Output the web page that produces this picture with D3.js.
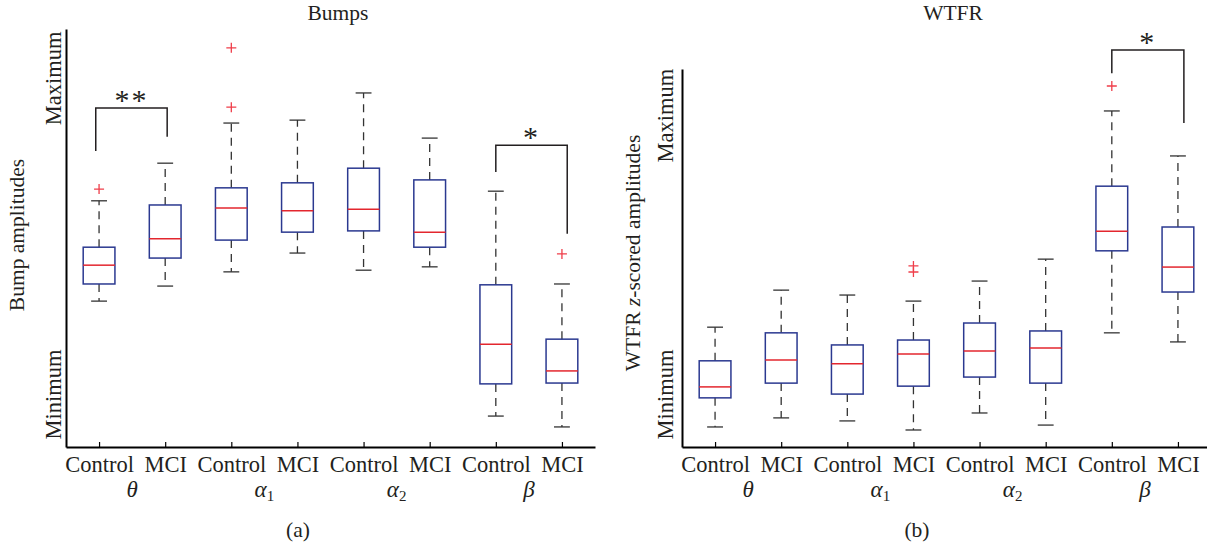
<!DOCTYPE html>
<html>
<head>
<meta charset="utf-8">
<script src="https://cdn.jsdelivr.net/npm/d3@7"></script>
<style>
  body { margin: 0; background: #fff; }
  text { font-family: "Liberation Serif", "DejaVu Serif", serif; fill: #231f20; }
</style>
</head>
<body>
<svg id="chart" width="1207" height="545"></svg>
<script>
// categories
const groups = ["Control", "MCI", "Control", "MCI", "Control", "MCI", "Control", "MCI"];
const bandSymbols = ["θ", "α", "α", "β"];
const bandSubs = ["", "1", "2", ""];

// box stats per group: [lower whisker, q1, median, q3, upper whisker] (0 = axis bottom)
const bumpsStats = [
    [34.9, 39.0, 43.5, 47.8, 58.9],
    [38.5, 45.2, 49.8, 57.9, 67.9],
    [41.9, 49.5, 57.2, 62.0, 77.5],
    [46.4, 51.4, 56.5, 63.2, 78.2],
    [42.3, 51.7, 56.9, 66.7, 84.7],
    [43.1, 47.8, 51.4, 63.9, 73.9],
    [7.4, 15.1, 24.6, 38.8, 61.2],
    [4.8, 15.3, 18.2, 25.8, 39.0]
];
const bumpsOutliers = [[61.7], [], [81.3, 95.5], [], [], [], [], [46.2]];
const bumpsBrackets = [
    {x1: 0.95, x2: 2.03, top: 81.1, left: 70.8, right: 74.2, label: "**"},
    {x1: 7.0, x2: 8.08, top: 72.2, left: 65.8, right: 51.0, label: "*"}
];

const wtfrStats = [
    [5.3, 13.0, 15.9, 22.8, 31.7],
    [7.7, 16.9, 23.0, 30.2, 41.5],
    [6.9, 14.0, 22.0, 27.0, 40.2],
    [4.5, 16.1, 24.6, 28.3, 38.6],
    [9.0, 18.5, 25.4, 32.8, 43.9],
    [5.8, 16.9, 26.2, 30.7, 49.7],
    [30.2, 51.9, 57.1, 69.0, 88.9],
    [27.8, 41.0, 47.6, 58.2, 77.0]
];
const wtfrOutliers = [[], [], [], [46.3, 47.9], [], [], [95.5], []];
const wtfrBrackets = [
    {x1: 7.0, x2: 8.09, top: 105.0, left: 98.9, right: 85.7, label: "*"}
];

const yTickLabels = ["Minimum", "Maximum"];
const bumpsYTicks = [12.7, 88.3];
const wtfrYTicks = [14.0, 87.8];

const svg = d3.select("#chart");
const boxHalf = 0.24, capHalf = 0.12;

function drawPanel(cfg) {
    const g = svg.append("g");
    const x = d3.scaleLinear().domain([0.5, 8.5]).range([cfg.left, cfg.left + 529]);
    const y = d3.scaleLinear().domain([0, 100]).range([447, cfg.top]);

    // x axis, ticks pointing inward
    const xAxis = g.append("g")
        .attr("transform", "translate(0,447)")
        .call(d3.axisBottom(x).tickValues(d3.range(1, 9)).tickSizeInner(-5).tickSizeOuter(0)
            .tickPadding(9).tickFormat(i => groups[i - 1]));
    xAxis.select(".domain").attr("stroke", "#000").attr("stroke-width", 2);
    xAxis.selectAll(".tick line").attr("stroke", "#000").attr("stroke-width", 1.2);
    xAxis.selectAll(".tick text").attr("font-size", 22.5).attr("font-family", "Liberation Serif").attr("fill", "#231f20");

    // y axis, no ticks, rotated labels
    const yAxis = g.append("g")
        .attr("transform", `translate(${cfg.left},0)`)
        .call(d3.axisLeft(y).tickValues(cfg.yTicks).tickSize(0).tickFormat((d, i) => yTickLabels[i]));
    yAxis.select(".domain").attr("stroke", "#000").attr("stroke-width", 2);
    yAxis.selectAll(".tick text")
        .attr("font-size", 22.5).attr("font-family", "Liberation Serif").attr("fill", "#231f20")
        .attr("transform", "rotate(-90)")
        .attr("x", 0).attr("y", -cfg.yPad).attr("dy", 0)
        .attr("text-anchor", "middle");

    // band labels
    bandSymbols.forEach((s, i) => {
        const t = g.append("text")
            .attr("x", x(1.5 + 2 * i)).attr("y", 497)
            .attr("text-anchor", "middle").attr("font-size", 23).attr("font-style", "italic")
            .text(s);
        if (bandSubs[i]) {
            t.append("tspan").attr("font-size", 15).attr("font-style", "normal")
                .attr("dy", 4).text(bandSubs[i]);
        }
    });

    const boxes = g.selectAll(".box").data(cfg.stats).enter().append("g").attr("class", "box");

    // whiskers
    boxes.append("line")
        .attr("x1", (d, i) => x(i + 1)).attr("x2", (d, i) => x(i + 1))
        .attr("y1", d => y(d[3])).attr("y2", d => y(d[4]))
        .attr("stroke", "#333").attr("stroke-width", 1.3).attr("stroke-dasharray", "8,6");
    boxes.append("line")
        .attr("x1", (d, i) => x(i + 1)).attr("x2", (d, i) => x(i + 1))
        .attr("y1", d => y(d[1])).attr("y2", d => y(d[0]))
        .attr("stroke", "#333").attr("stroke-width", 1.3).attr("stroke-dasharray", "8,6");
    [0, 4].forEach(k => {
        boxes.append("line")
            .attr("x1", (d, i) => x(i + 1 - capHalf)).attr("x2", (d, i) => x(i + 1 + capHalf))
            .attr("y1", d => y(d[k])).attr("y2", d => y(d[k]))
            .attr("stroke", "#333").attr("stroke-width", 1.3);
    });

    boxes.append("rect")
        .attr("x", (d, i) => x(i + 1 - boxHalf))
        .attr("width", x(1 + boxHalf) - x(1 - boxHalf))
        .attr("y", d => y(d[3]))
        .attr("height", d => y(d[1]) - y(d[3]))
        .attr("fill", "none").attr("stroke", "#2b3990").attr("stroke-width", 1.5);
    boxes.append("line")
        .attr("x1", (d, i) => x(i + 1 - boxHalf)).attr("x2", (d, i) => x(i + 1 + boxHalf))
        .attr("y1", d => y(d[2])).attr("y2", d => y(d[2]))
        .attr("stroke", "#e3262e").attr("stroke-width", 1.5);

    // outliers
    cfg.outliers.forEach((list, i) => {
        list.forEach(v => {
            g.append("path")
                .attr("d", `M${x(i + 1) - 5},${y(v)}h10M${x(i + 1)},${y(v) - 5}v10`)
                .attr("stroke", "#ef3e4a").attr("stroke-width", 1.3).attr("fill", "none");
        });
    });

    // significance brackets
    cfg.brackets.forEach(b => {
        g.append("path")
            .attr("d", `M${x(b.x1)},${y(b.left)}V${y(b.top)}H${x(b.x2)}V${y(b.right)}`)
            .attr("fill", "none").attr("stroke", "#231f20").attr("stroke-width", 1.5);
        g.append("text")
            .attr("x", (x(b.x1) + x(b.x2)) / 2).attr("y", y(b.top) + 2)
            .attr("text-anchor", "middle").attr("font-size", 30).attr("letter-spacing", 2)
            .attr("fill", "#444")
            .text(b.label);
    });

    // title, y label, panel tag
    g.append("text").attr("x", cfg.titleX).attr("y", 20).attr("text-anchor", "middle")
        .attr("font-size", 21.5).text(cfg.title);
    const yl = g.append("text")
        .attr("transform", `translate(${cfg.yLabelX},${cfg.yLabelY}) rotate(-90)`)
        .attr("text-anchor", "middle").attr("font-size", 21.5);
    cfg.yLabel.forEach(part => {
        yl.append("tspan").attr("font-style", part.italic ? "italic" : "normal").text(part.text);
    });
    g.append("text").attr("x", cfg.tagX).attr("y", 537).attr("text-anchor", "middle")
        .attr("font-size", 21.5).text(cfg.tag);
}

drawPanel({
    left: 66, top: 29, yTicks: bumpsYTicks, yPad: 5,
    stats: bumpsStats, outliers: bumpsOutliers, brackets: bumpsBrackets,
    title: "Bumps", titleX: 338,
    yLabel: [{text: "Bump amplitudes"}], yLabelX: 24, yLabelY: 235,
    tag: "(a)", tagX: 298
});

drawPanel({
    left: 682, top: 69, yTicks: wtfrYTicks, yPad: 9,
    stats: wtfrStats, outliers: wtfrOutliers, brackets: wtfrBrackets,
    title: "WTFR", titleX: 953,
    yLabel: [{text: "WTFR "}, {text: "z", italic: true}, {text: "-scored amplitudes"}], yLabelX: 640, yLabelY: 253,
    tag: "(b)", tagX: 917
});
</script>
</body>
</html>
